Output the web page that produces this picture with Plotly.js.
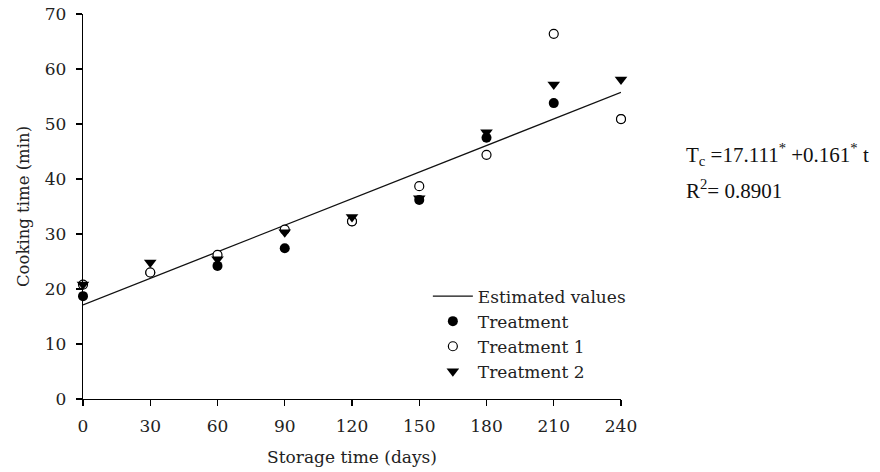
<!DOCTYPE html>
<html>
<head>
<meta charset="utf-8">
<script src="https://cdn.plot.ly/plotly-3.0.1.min.js"></script>
<style>
html,body{margin:0;padding:0;background:#fff;}
#chart{width:880px;height:472px;}
</style>
</head>
<body>
<div id="chart"></div>
<script>
const days = [0, 30, 60, 90, 120, 150, 180, 210, 240];
const treatment = [18.7, 23.0, 24.2, 27.4, 32.3, 36.2, 47.5, 53.8, 50.9];
const treatment1 = [20.8, 23.0, 26.2, 30.8, 32.3, 38.7, 44.4, 66.4, 50.9];
const treatment2 = [20.8, 24.8, 25.4, 30.3, 33.1, 36.5, 48.5, 57.2, 58.1];
const fitDays = [0, 240];
const estimated = [17.1, 55.75];
const xTicks = [0, 30, 60, 90, 120, 150, 180, 210, 240];
const yTicks = [0, 10, 20, 30, 40, 50, 60, 70];

const serif = "DejaVu Serif, serif";
const traces = [
  {x: fitDays, y: estimated, mode: 'lines', name: 'Estimated values',
   line: {color: '#111', width: 1.3}, cliponaxis: false},
  {x: days, y: treatment, mode: 'markers', name: 'Treatment', cliponaxis: false,
   marker: {symbol: 'circle', size: 10, color: '#000', line: {width: 0}}},
  {x: days, y: treatment1, mode: 'markers', name: 'Treatment 1', cliponaxis: false,
   marker: {symbol: 'circle', size: 9, color: '#fff', line: {width: 1.2, color: '#000'}}},
  {x: days, y: treatment2, mode: 'markers', name: 'Treatment 2', cliponaxis: false,
   marker: {symbol: 'triangle-down', size: 11, color: '#000', line: {width: 0}}}
];

const layout = {
  width: 880, height: 472,
  margin: {l: 83, r: 259, t: 14, b: 73, pad: 0},
  paper_bgcolor: '#fff', plot_bgcolor: '#fff',
  showlegend: true,
  font: {family: serif, size: 17, color: '#222'},
  xaxis: {
    range: [0, 240], tickvals: xTicks, ticktext: xTicks.map(String),
    showgrid: false, zeroline: false, showline: true, linecolor: '#000', linewidth: 1.2,
    ticks: 'outside', ticklen: 6, tickwidth: 1.2, tickcolor: '#000',
    ticklabelstandoff: 5,
    tickfont: {family: serif, size: 17, color: '#222'},
    title: {text: 'Storage time (days)', font: {family: serif, size: 17, color: '#222'}, standoff: 16}
  },
  yaxis: {
    range: [0, 70], tickvals: yTicks, ticktext: yTicks.map(String),
    showgrid: false, zeroline: false, showline: true, linecolor: '#000', linewidth: 1.2,
    ticks: 'outside', ticklen: 6, tickwidth: 1.2, tickcolor: '#000',
    ticklabelstandoff: 6,
    tickfont: {family: serif, size: 17, color: '#222'},
    title: {text: 'Cooking time (min)', font: {family: serif, size: 16.5, color: '#222'}, standoff: 11}
  },
  legend: {
    x: 0.641, y: 0.313, xanchor: 'left', yanchor: 'top',
    bgcolor: 'rgba(0,0,0,0)', borderwidth: 0,
    font: {family: serif, size: 17, color: '#222'},
    tracegroupgap: 0, itemwidth: 40
  },
  annotations: [
    {xref: 'paper', yref: 'paper', x: 1.118, y: 0.636, xanchor: 'left', yanchor: 'middle',
     showarrow: false, text: 'T<sub>c</sub> =17.111<sup>*</sup> +0.161<sup>*</sup> t',
     font: {family: 'Liberation Serif, serif', size: 21, color: '#111'}},
    {xref: 'paper', yref: 'paper', x: 1.118, y: 0.543, xanchor: 'left', yanchor: 'middle',
     showarrow: false, text: 'R<sup>2</sup>= 0.8901',
     font: {family: 'Liberation Serif, serif', size: 21, color: '#111'}}
  ]
};

Plotly.newPlot('chart', traces, layout, {displayModeBar: false, staticPlot: true});
</script>
</body>
</html>
